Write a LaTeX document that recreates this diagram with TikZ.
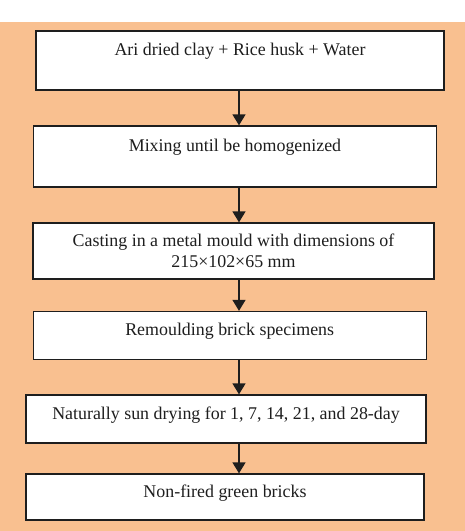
\documentclass[tikz,border=0pt]{standalone}
\usepackage{fontspec}
\setmainfont{Liberation Serif}
\usetikzlibrary{arrows.meta}
\definecolor{peach}{RGB}{249,192,144}
\definecolor{ink}{RGB}{30,30,30}

\begin{document}
\begin{tikzpicture}[x=1pt,y=-1pt,
  stepbox/.style={draw=ink,line width=1.3pt,fill=white,inner sep=0pt,align=center,text=ink,font=\fontsize{17.9}{20.5}\selectfont},
  flow/.style={-{Triangle[width=13pt,length=11pt]},line width=1.4pt,draw=ink}]
% ---- page and background ----
\useasboundingbox (0,0) rectangle (465,531);
\fill[peach] (0,22) rectangle (465,531);
% ---- process steps ----
\node[stepbox,minimum width=408pt,minimum height=59pt,text height=12pt,text depth=22.6pt] (raw) at (240,60.5) {Ari dried clay + Rice husk + Water};
\node[stepbox,minimum width=403pt,minimum height=61pt,text height=12pt,text depth=22.6pt] (mixing) at (235,156.5) {Mixing until be homogenized};
\node[stepbox,minimum width=401pt,minimum height=56pt] (casting) at (233.5,251) {Casting in a metal mould with dimensions of\\215×102×65 mm};
\node[stepbox,minimum width=393pt,minimum height=48pt,text height=12pt,text depth=12pt] (remould) at (229.7,335.5) {Remoulding brick specimens};
\node[stepbox,minimum width=400pt,minimum height=48pt,text height=12pt,text depth=12pt] (drying) at (226,419) {Naturally sun drying for 1, 7, 14, 21, and 28-day};
\node[stepbox,minimum width=398pt,minimum height=46pt,text height=12pt,text depth=11pt] (bricks) at (225,497) {Non-fired green bricks};
% ---- arrows ----
\coordinate (axis) at (239,0);
\draw[flow] (raw.south -| axis) -- (mixing.north -| axis);
\draw[flow] (mixing.south -| axis) -- (casting.north -| axis);
\draw[flow] (casting.south -| axis) -- (remould.north -| axis);
\draw[flow] (remould.south -| axis) -- (drying.north -| axis);
\draw[flow] (drying.south -| axis) -- (bricks.north -| axis);
\end{tikzpicture}
\end{document}
